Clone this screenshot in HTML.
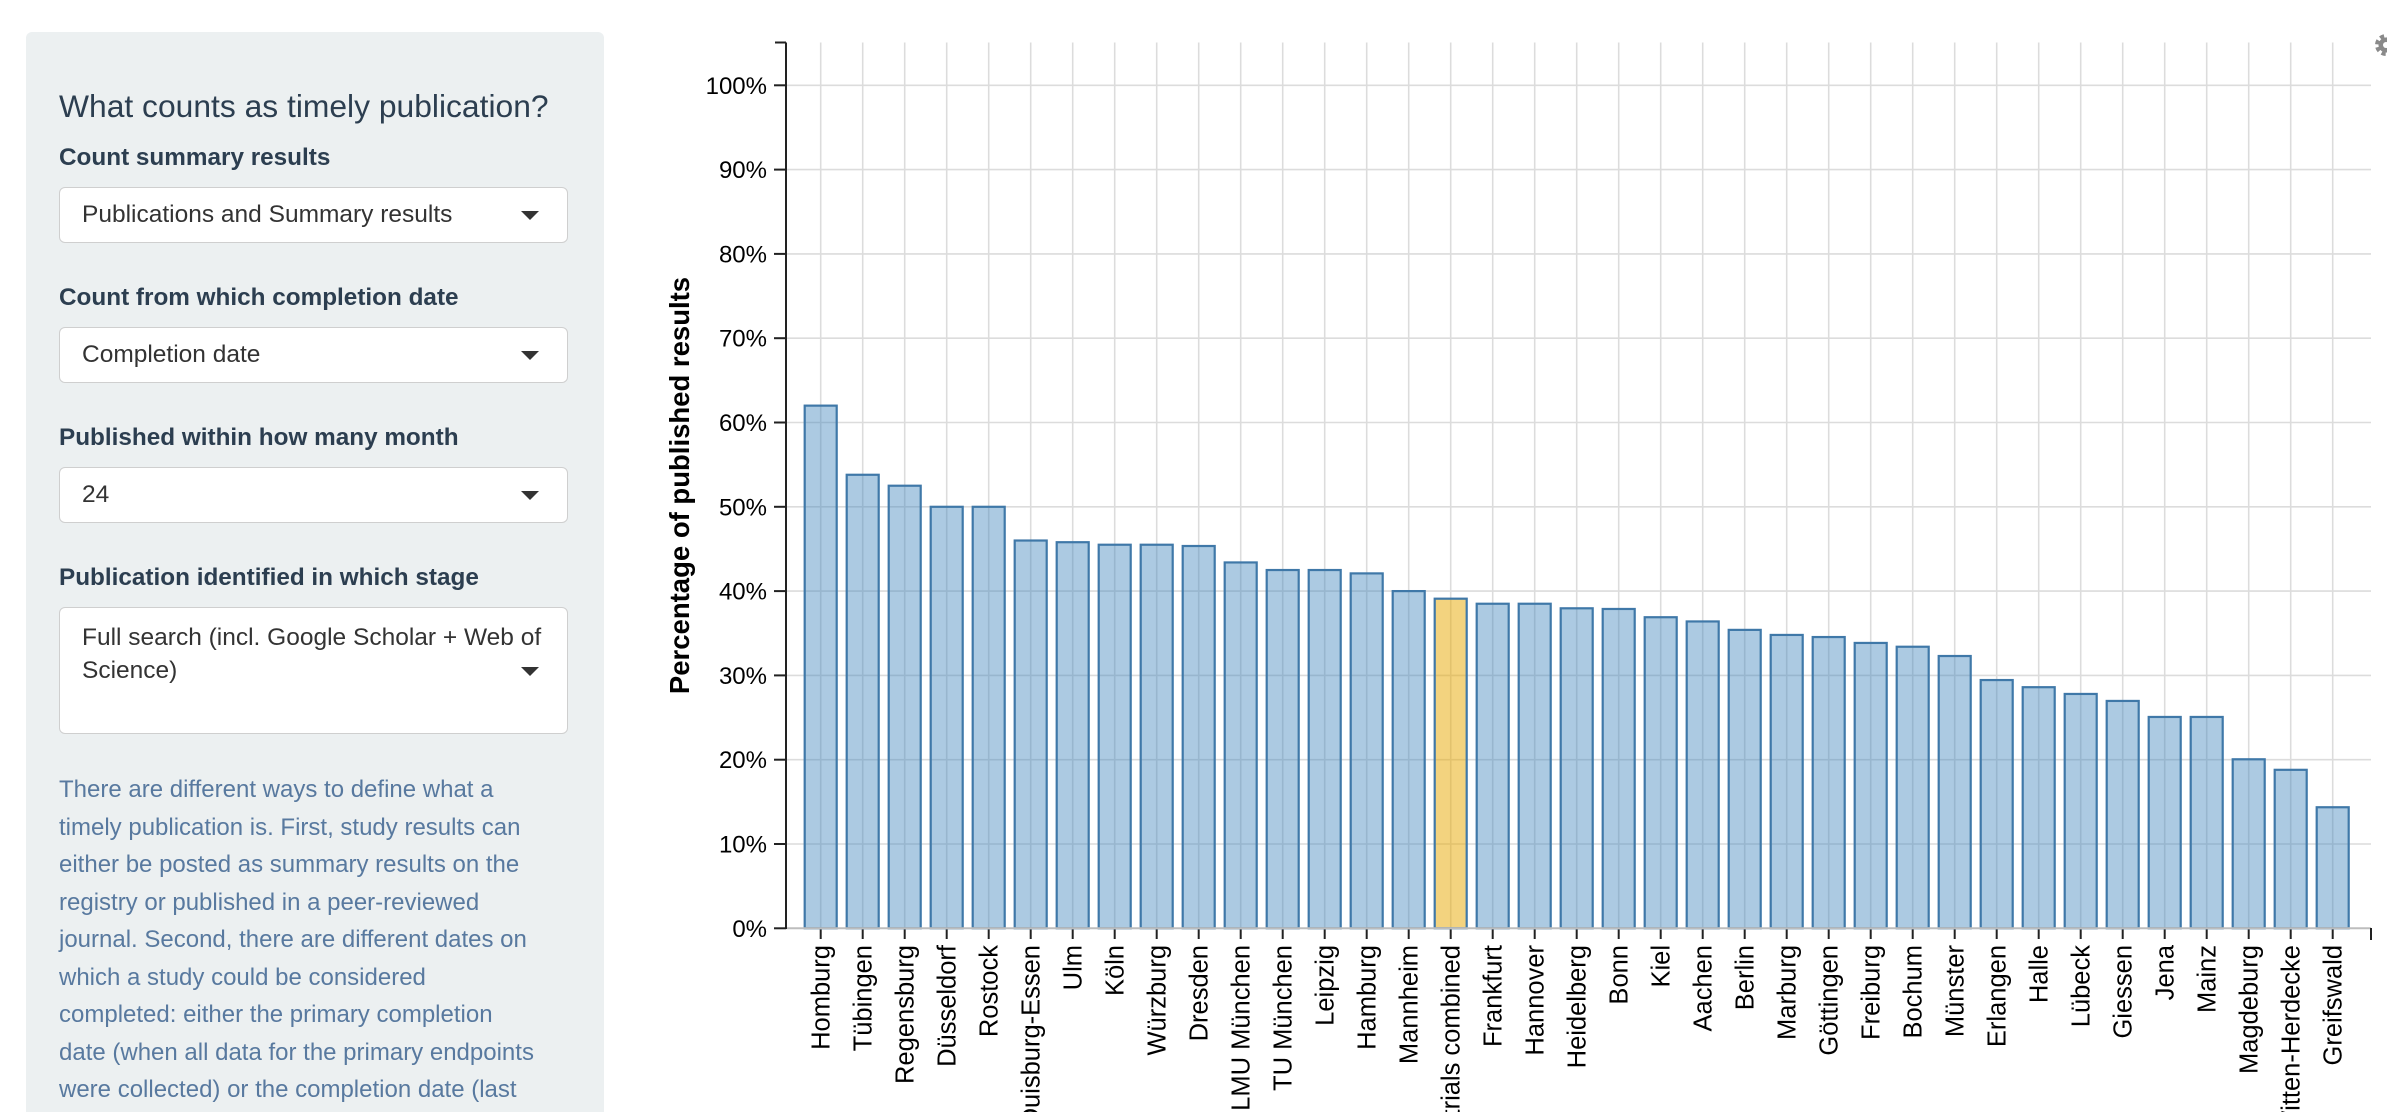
<!DOCTYPE html>
<html>
<head>
<meta charset="utf-8">
<style>
  html, body { margin:0; padding:0; width:2387px; height:1112px; overflow:hidden; }
  body { background:#ffffff; position:relative; font-family:"Liberation Sans", Arial, sans-serif; }
  .panel { position:absolute; left:26px; top:32px; width:578px; height:1080px; background:#ecf0f1; border-radius:6px 6px 0 0; }
  .t { position:absolute; white-space:nowrap; }
  .h { left:59px; top:86px; height:41px; line-height:41px; font-size:31.8px; color:#2c3e50; }
  .lab { left:59px; height:34px; line-height:34px; font-size:24.3px; font-weight:bold; color:#2c3e50; }
  .sel { position:absolute; left:59px; width:507px; background:#fff; border:1.5px solid #cfcfcf; border-radius:6px; }
  .stext { position:absolute; left:82px; font-size:24.5px; color:#333; white-space:nowrap; line-height:33px; height:33px; }
  .caret { position:absolute; left:521px; width:0; height:0; border-left:9px solid transparent; border-right:9px solid transparent; border-top:9px solid #333; }
  .para { position:absolute; left:59px; top:771px; font-size:24px; line-height:37.5px; color:#58799f; white-space:nowrap; }
</style>
</head>
<body>
<div class="panel"></div>
<div class="t h">What counts as timely publication?</div>

<div class="t lab" style="top:141px;">Count summary results</div>
<div class="sel" style="top:187px;height:54px;"></div>
<div class="stext" style="top:198px;">Publications and Summary results</div>
<div class="caret" style="top:211px;"></div>

<div class="t lab" style="top:281px;">Count from which completion date</div>
<div class="sel" style="top:327px;height:54px;"></div>
<div class="stext" style="top:338px;">Completion date</div>
<div class="caret" style="top:351px;"></div>

<div class="t lab" style="top:421px;">Published within how many month</div>
<div class="sel" style="top:467px;height:54px;"></div>
<div class="stext" style="top:478px;">24</div>
<div class="caret" style="top:491px;"></div>

<div class="t lab" style="top:561px;">Publication identified in which stage</div>
<div class="sel" style="top:607px;height:125px;"></div>
<div class="stext" style="top:621px;">Full search (incl. Google Scholar + Web of</div>
<div class="stext" style="top:654px;">Science)</div>
<div class="caret" style="top:667px;"></div>

<div class="para">There are different ways to define what a<br>timely publication is. First, study results can<br>either be posted as summary results on the<br>registry or published in a peer-reviewed<br>journal. Second, there are different dates on<br>which a study could be considered<br>completed: either the primary completion<br>date (when all data for the primary endpoints<br>were collected) or the completion date (last</div>

<svg width="2387" height="1112" viewBox="0 0 2387 1112" style="position:absolute;left:0;top:0;" font-family="Liberation Sans, Arial, sans-serif">
  <!-- horizontal gridlines -->
  <g stroke="#dcdcdc" stroke-width="1.6">
    <line x1="786" x2="2371" y1="844.0" y2="844.0"/>
    <line x1="786" x2="2371" y1="759.7" y2="759.7"/>
    <line x1="786" x2="2371" y1="675.4" y2="675.4"/>
    <line x1="786" x2="2371" y1="591.1" y2="591.1"/>
    <line x1="786" x2="2371" y1="506.8" y2="506.8"/>
    <line x1="786" x2="2371" y1="422.5" y2="422.5"/>
    <line x1="786" x2="2371" y1="338.2" y2="338.2"/>
    <line x1="786" x2="2371" y1="253.9" y2="253.9"/>
    <line x1="786" x2="2371" y1="169.6" y2="169.6"/>
    <line x1="786" x2="2371" y1="85.3" y2="85.3"/>
  </g>
  <!-- vertical gridlines -->
  <g stroke="#dcdcdc" stroke-width="1.6">
    <line x1="820.7" x2="820.7" y1="42.5" y2="928.3"/>
    <line x1="862.7" x2="862.7" y1="42.5" y2="928.3"/>
    <line x1="904.7" x2="904.7" y1="42.5" y2="928.3"/>
    <line x1="946.7" x2="946.7" y1="42.5" y2="928.3"/>
    <line x1="988.7" x2="988.7" y1="42.5" y2="928.3"/>
    <line x1="1030.7" x2="1030.7" y1="42.5" y2="928.3"/>
    <line x1="1072.7" x2="1072.7" y1="42.5" y2="928.3"/>
    <line x1="1114.7" x2="1114.7" y1="42.5" y2="928.3"/>
    <line x1="1156.7" x2="1156.7" y1="42.5" y2="928.3"/>
    <line x1="1198.7" x2="1198.7" y1="42.5" y2="928.3"/>
    <line x1="1240.7" x2="1240.7" y1="42.5" y2="928.3"/>
    <line x1="1282.7" x2="1282.7" y1="42.5" y2="928.3"/>
    <line x1="1324.7" x2="1324.7" y1="42.5" y2="928.3"/>
    <line x1="1366.7" x2="1366.7" y1="42.5" y2="928.3"/>
    <line x1="1408.7" x2="1408.7" y1="42.5" y2="928.3"/>
    <line x1="1450.7" x2="1450.7" y1="42.5" y2="928.3"/>
    <line x1="1492.7" x2="1492.7" y1="42.5" y2="928.3"/>
    <line x1="1534.7" x2="1534.7" y1="42.5" y2="928.3"/>
    <line x1="1576.7" x2="1576.7" y1="42.5" y2="928.3"/>
    <line x1="1618.7" x2="1618.7" y1="42.5" y2="928.3"/>
    <line x1="1660.7" x2="1660.7" y1="42.5" y2="928.3"/>
    <line x1="1702.7" x2="1702.7" y1="42.5" y2="928.3"/>
    <line x1="1744.7" x2="1744.7" y1="42.5" y2="928.3"/>
    <line x1="1786.7" x2="1786.7" y1="42.5" y2="928.3"/>
    <line x1="1828.7" x2="1828.7" y1="42.5" y2="928.3"/>
    <line x1="1870.7" x2="1870.7" y1="42.5" y2="928.3"/>
    <line x1="1912.7" x2="1912.7" y1="42.5" y2="928.3"/>
    <line x1="1954.7" x2="1954.7" y1="42.5" y2="928.3"/>
    <line x1="1996.7" x2="1996.7" y1="42.5" y2="928.3"/>
    <line x1="2038.7" x2="2038.7" y1="42.5" y2="928.3"/>
    <line x1="2080.7" x2="2080.7" y1="42.5" y2="928.3"/>
    <line x1="2122.7" x2="2122.7" y1="42.5" y2="928.3"/>
    <line x1="2164.7" x2="2164.7" y1="42.5" y2="928.3"/>
    <line x1="2206.7" x2="2206.7" y1="42.5" y2="928.3"/>
    <line x1="2248.7" x2="2248.7" y1="42.5" y2="928.3"/>
    <line x1="2290.7" x2="2290.7" y1="42.5" y2="928.3"/>
    <line x1="2332.7" x2="2332.7" y1="42.5" y2="928.3"/>
  </g>

  <!-- bars -->
  <g fill="rgba(66,135,190,0.44)" stroke="#3f78a8" stroke-width="2.2">
    <rect x="804.7" y="405.64" width="32" height="522.66"/>
    <rect x="846.7" y="474.77" width="32" height="453.53"/>
    <rect x="888.7" y="485.72" width="32" height="442.58"/>
    <rect x="930.7" y="506.8" width="32" height="421.5"/>
    <rect x="972.7" y="506.8" width="32" height="421.5"/>
    <rect x="1014.7" y="540.52" width="32" height="387.78"/>
    <rect x="1056.7" y="542.21" width="32" height="386.09"/>
    <rect x="1098.7" y="544.73" width="32" height="383.57"/>
    <rect x="1140.7" y="544.73" width="32" height="383.57"/>
    <rect x="1182.7" y="546.0" width="32" height="382.3"/>
    <rect x="1224.7" y="562.44" width="32" height="365.86"/>
    <rect x="1266.7" y="570.02" width="32" height="358.28"/>
    <rect x="1308.7" y="570.02" width="32" height="358.28"/>
    <rect x="1350.7" y="573.4" width="32" height="354.9"/>
    <rect x="1392.7" y="591.1" width="32" height="337.2"/>
    <rect x="1434.7" y="598.69" width="32" height="329.61" fill="rgba(232,168,0,0.5)"/>
    <rect x="1476.7" y="603.74" width="32" height="324.56"/>
    <rect x="1518.7" y="603.74" width="32" height="324.56"/>
    <rect x="1560.7" y="608.3" width="32" height="320.0"/>
    <rect x="1602.7" y="608.97" width="32" height="319.33"/>
    <rect x="1644.7" y="617.23" width="32" height="311.07"/>
    <rect x="1686.7" y="621.45" width="32" height="306.85"/>
    <rect x="1728.7" y="629.88" width="32" height="298.42"/>
    <rect x="1770.7" y="634.94" width="32" height="293.36"/>
    <rect x="1812.7" y="637.04" width="32" height="291.26"/>
    <rect x="1854.7" y="642.94" width="32" height="285.36"/>
    <rect x="1896.7" y="646.74" width="32" height="281.56"/>
    <rect x="1938.7" y="656.01" width="32" height="272.29"/>
    <rect x="1980.7" y="680.04" width="32" height="248.26"/>
    <rect x="2022.7" y="687.2" width="32" height="241.1"/>
    <rect x="2064.7" y="693.95" width="32" height="234.35"/>
    <rect x="2106.7" y="700.94" width="32" height="227.36"/>
    <rect x="2148.7" y="716.96" width="32" height="211.34"/>
    <rect x="2190.7" y="716.96" width="32" height="211.34"/>
    <rect x="2232.7" y="759.28" width="32" height="169.02"/>
    <rect x="2274.7" y="769.82" width="32" height="158.48"/>
    <rect x="2316.7" y="807.25" width="32" height="121.05"/>
  </g>

  <!-- x axis -->
  <line x1="786" x2="2371" y1="928.3" y2="928.3" stroke="#bdbdbd" stroke-width="2"/>
  <g stroke="#222" stroke-width="2">
    <line x1="2371" x2="2371" y1="928" y2="940"/>
    <line x1="820.7" x2="820.7" y1="929.5" y2="939"/>
    <line x1="862.7" x2="862.7" y1="929.5" y2="939"/>
    <line x1="904.7" x2="904.7" y1="929.5" y2="939"/>
    <line x1="946.7" x2="946.7" y1="929.5" y2="939"/>
    <line x1="988.7" x2="988.7" y1="929.5" y2="939"/>
    <line x1="1030.7" x2="1030.7" y1="929.5" y2="939"/>
    <line x1="1072.7" x2="1072.7" y1="929.5" y2="939"/>
    <line x1="1114.7" x2="1114.7" y1="929.5" y2="939"/>
    <line x1="1156.7" x2="1156.7" y1="929.5" y2="939"/>
    <line x1="1198.7" x2="1198.7" y1="929.5" y2="939"/>
    <line x1="1240.7" x2="1240.7" y1="929.5" y2="939"/>
    <line x1="1282.7" x2="1282.7" y1="929.5" y2="939"/>
    <line x1="1324.7" x2="1324.7" y1="929.5" y2="939"/>
    <line x1="1366.7" x2="1366.7" y1="929.5" y2="939"/>
    <line x1="1408.7" x2="1408.7" y1="929.5" y2="939"/>
    <line x1="1450.7" x2="1450.7" y1="929.5" y2="939"/>
    <line x1="1492.7" x2="1492.7" y1="929.5" y2="939"/>
    <line x1="1534.7" x2="1534.7" y1="929.5" y2="939"/>
    <line x1="1576.7" x2="1576.7" y1="929.5" y2="939"/>
    <line x1="1618.7" x2="1618.7" y1="929.5" y2="939"/>
    <line x1="1660.7" x2="1660.7" y1="929.5" y2="939"/>
    <line x1="1702.7" x2="1702.7" y1="929.5" y2="939"/>
    <line x1="1744.7" x2="1744.7" y1="929.5" y2="939"/>
    <line x1="1786.7" x2="1786.7" y1="929.5" y2="939"/>
    <line x1="1828.7" x2="1828.7" y1="929.5" y2="939"/>
    <line x1="1870.7" x2="1870.7" y1="929.5" y2="939"/>
    <line x1="1912.7" x2="1912.7" y1="929.5" y2="939"/>
    <line x1="1954.7" x2="1954.7" y1="929.5" y2="939"/>
    <line x1="1996.7" x2="1996.7" y1="929.5" y2="939"/>
    <line x1="2038.7" x2="2038.7" y1="929.5" y2="939"/>
    <line x1="2080.7" x2="2080.7" y1="929.5" y2="939"/>
    <line x1="2122.7" x2="2122.7" y1="929.5" y2="939"/>
    <line x1="2164.7" x2="2164.7" y1="929.5" y2="939"/>
    <line x1="2206.7" x2="2206.7" y1="929.5" y2="939"/>
    <line x1="2248.7" x2="2248.7" y1="929.5" y2="939"/>
    <line x1="2290.7" x2="2290.7" y1="929.5" y2="939"/>
    <line x1="2332.7" x2="2332.7" y1="929.5" y2="939"/>
  </g>

  <!-- y axis -->
  <g stroke="#222" stroke-width="2">
    <line x1="786" x2="786" y1="42.5" y2="929"/>
    <line x1="775" x2="786" y1="42.5" y2="42.5"/>
    <line x1="774" x2="786" y1="928.3" y2="928.3"/>
    <line x1="774" x2="786" y1="844.0" y2="844.0"/>
    <line x1="774" x2="786" y1="759.7" y2="759.7"/>
    <line x1="774" x2="786" y1="675.4" y2="675.4"/>
    <line x1="774" x2="786" y1="591.1" y2="591.1"/>
    <line x1="774" x2="786" y1="506.8" y2="506.8"/>
    <line x1="774" x2="786" y1="422.5" y2="422.5"/>
    <line x1="774" x2="786" y1="338.2" y2="338.2"/>
    <line x1="774" x2="786" y1="253.9" y2="253.9"/>
    <line x1="774" x2="786" y1="169.6" y2="169.6"/>
    <line x1="774" x2="786" y1="85.3" y2="85.3"/>
  </g>
  <g font-size="24" fill="#000" text-anchor="end">
    <text x="767" y="936.8">0%</text>
    <text x="767" y="852.5">10%</text>
    <text x="767" y="768.2">20%</text>
    <text x="767" y="683.9">30%</text>
    <text x="767" y="599.6">40%</text>
    <text x="767" y="515.3">50%</text>
    <text x="767" y="431.0">60%</text>
    <text x="767" y="346.7">70%</text>
    <text x="767" y="262.4">80%</text>
    <text x="767" y="178.1">90%</text>
    <text x="767" y="93.8">100%</text>
  </g>
  <text transform="translate(689,485.5) rotate(-90)" text-anchor="middle" font-size="27.5" font-weight="bold" fill="#000">Percentage of published results</text>

  <!-- x labels -->
  <g font-size="25.5" fill="#000" text-anchor="end">
    <text transform="translate(820.7,945) rotate(-90)" dy="0.35em">Homburg</text>
    <text transform="translate(862.7,945) rotate(-90)" dy="0.35em">Tübingen</text>
    <text transform="translate(904.7,945) rotate(-90)" dy="0.35em">Regensburg</text>
    <text transform="translate(946.7,945) rotate(-90)" dy="0.35em">Düsseldorf</text>
    <text transform="translate(988.7,945) rotate(-90)" dy="0.35em">Rostock</text>
    <text transform="translate(1030.7,945) rotate(-90)" dy="0.35em">Duisburg-Essen</text>
    <text transform="translate(1072.7,945) rotate(-90)" dy="0.35em">Ulm</text>
    <text transform="translate(1114.7,945) rotate(-90)" dy="0.35em">Köln</text>
    <text transform="translate(1156.7,945) rotate(-90)" dy="0.35em">Würzburg</text>
    <text transform="translate(1198.7,945) rotate(-90)" dy="0.35em">Dresden</text>
    <text transform="translate(1240.7,945) rotate(-90)" dy="0.35em">LMU München</text>
    <text transform="translate(1282.7,945) rotate(-90)" dy="0.35em">TU München</text>
    <text transform="translate(1324.7,945) rotate(-90)" dy="0.35em">Leipzig</text>
    <text transform="translate(1366.7,945) rotate(-90)" dy="0.35em">Hamburg</text>
    <text transform="translate(1408.7,945) rotate(-90)" dy="0.35em">Mannheim</text>
    <text transform="translate(1450.7,945) rotate(-90)" dy="0.35em">All trials combined</text>
    <text transform="translate(1492.7,945) rotate(-90)" dy="0.35em">Frankfurt</text>
    <text transform="translate(1534.7,945) rotate(-90)" dy="0.35em">Hannover</text>
    <text transform="translate(1576.7,945) rotate(-90)" dy="0.35em">Heidelberg</text>
    <text transform="translate(1618.7,945) rotate(-90)" dy="0.35em">Bonn</text>
    <text transform="translate(1660.7,945) rotate(-90)" dy="0.35em">Kiel</text>
    <text transform="translate(1702.7,945) rotate(-90)" dy="0.35em">Aachen</text>
    <text transform="translate(1744.7,945) rotate(-90)" dy="0.35em">Berlin</text>
    <text transform="translate(1786.7,945) rotate(-90)" dy="0.35em">Marburg</text>
    <text transform="translate(1828.7,945) rotate(-90)" dy="0.35em">Göttingen</text>
    <text transform="translate(1870.7,945) rotate(-90)" dy="0.35em">Freiburg</text>
    <text transform="translate(1912.7,945) rotate(-90)" dy="0.35em">Bochum</text>
    <text transform="translate(1954.7,945) rotate(-90)" dy="0.35em">Münster</text>
    <text transform="translate(1996.7,945) rotate(-90)" dy="0.35em">Erlangen</text>
    <text transform="translate(2038.7,945) rotate(-90)" dy="0.35em">Halle</text>
    <text transform="translate(2080.7,945) rotate(-90)" dy="0.35em">Lübeck</text>
    <text transform="translate(2122.7,945) rotate(-90)" dy="0.35em">Giessen</text>
    <text transform="translate(2164.7,945) rotate(-90)" dy="0.35em">Jena</text>
    <text transform="translate(2206.7,945) rotate(-90)" dy="0.35em">Mainz</text>
    <text transform="translate(2248.7,945) rotate(-90)" dy="0.35em">Magdeburg</text>
    <text transform="translate(2290.7,945) rotate(-90)" dy="0.35em">Witten-Herdecke</text>
    <text transform="translate(2332.7,945) rotate(-90)" dy="0.35em">Greifswald</text>
  </g>

  <!-- gear icon (partially cut) -->
  <g>
    <circle cx="2386" cy="45" r="9" fill="none" stroke="#8a8a8a" stroke-width="4" stroke-dasharray="4.2 3"/>
    <circle cx="2386" cy="45" r="7.5" fill="#8a8a8a"/>
    <circle cx="2386" cy="45" r="3" fill="#ffffff"/>
  </g>
</svg>
</body>
</html>
